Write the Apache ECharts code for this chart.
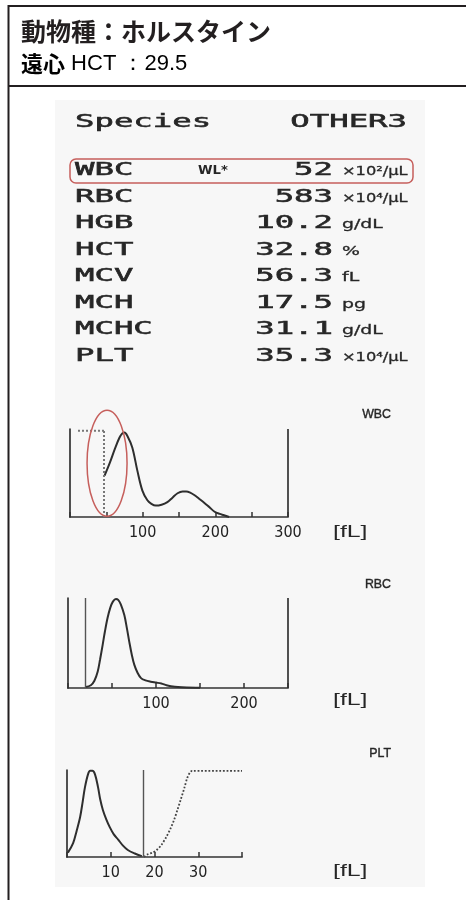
<!DOCTYPE html>
<html><head><meta charset="utf-8">
<script src="https://cdn.jsdelivr.net/npm/echarts@6/dist/echarts.min.js"></script>
<style>html,body{margin:0;padding:0;background:#fff}#c{width:466px;height:900px}</style>
</head><body><div id="c"></div>
<script>
// ---- header ----
const headerTitle = '動物種：ホルスタイン';
const headerSubBold = '遠心';
const headerSubRest = ' HCT ：29.5';
// ---- printout values ----
const speciesLabel = 'Species';
const speciesValue = 'OTHER3';
const rowNames  = ['WBC','RBC','HGB','HCT','MCV','MCH','MCHC','PLT'];
const rowValues = ['52','583','10.2','32.8','56.3','17.5','31.1','35.3'];
const rowUnits  = ['×10²/μL','×10⁴/μL','g/dL','%','fL','pg','g/dL','×10⁴/μL'];
const rowFlags  = ['WL*','','','','','','',''];
// ---- histograms ----
const histTitles = ['WBC','RBC','PLT'];
const unitLabel = '[fL]';
const wbcXMax = 300, rbcXMax = 250, pltXMax = 40;
const wbcTickLabels = [100,200,300];
const rbcTickLabels = [100,200];
const pltTickLabels = [10,20,30];
const wbcGate = 47, rbcGate = 20, pltGate = 17.4;
const wbcCurve = [[47.6,47],[55,62],[62,78],[68,90],[72,95],[75,96],[79,92],[85.7,79],[92.6,53],[99.6,30],[106.5,19],[112,15],[118,13],[126,14],[134,17],[141,22],[148,27],[155,29],[160,29],[166,27.5],[171,25],[178,20.5],[185,16],[192,11],[199,6],[206,3.5],[212,2],[219,0]];
const wbcDotted = [[11,98],[47,98]];
const rbcCurve = [[20,1],[26,3],[30,8],[33.7,18],[36.5,32],[39.4,48],[42,63],[45,78],[48,89],[51,96],[54.5,99],[57,98],[60,93],[64,81],[67,66],[69.7,51],[72.5,37],[75.3,26],[79,17],[83,11],[88,8.5],[94,7],[100,6],[106,5],[112,3],[117,2],[125,1],[135,0.5],[150,0.3]];
const pltCurve = [[0.2,5],[1.4,16],[2.2,30],[3,46],[3.6,64],[4.1,80],[4.8,95],[5.3,99],[5.8,99],[6.4,95],[7.1,80],[7.6,66],[8.2,54],[9,43],[9.8,34],[10.7,26],[11.7,20],[12.8,13],[13.9,8],[15.5,4],[17.1,1]];
const pltDotted = [[17.6,0],[18.4,3],[19.5,5],[20.5,8],[21.6,14],[22.7,23],[23.6,32],[24.5,43],[25.3,55],[26,66],[26.8,79],[27.5,91],[28.1,97],[28.6,99],[40,99]];

const ink = '#262626';
const chart = echarts.init(document.getElementById('c'));

function xAxisFor(gi, max, interval, labels) {
  return {
    gridIndex: gi, type: 'value', min: 0, max: max, interval: interval,
    axisLine: {show: true, lineStyle: {color: '#333', width: 1.7}},
    axisTick: {show: true, inside: true, length: 5, lineStyle: {color: '#333', width: 1.5}},
    axisLabel: {show: true, margin: 8, color: '#222', fontSize: 16,
      fontFamily: "'Liberation Sans Narrow','DejaVu Sans Condensed','Liberation Sans'",
      formatter: v => labels.indexOf(v) >= 0 ? String(v) : ''},
    splitLine: {show: false}
  };
}
function yAxisFor(gi) {
  return {gridIndex: gi, type: 'value', min: 0, max: 100,
    axisLine: {show: true, lineStyle: {color: '#333', width: 1.7}},
    axisTick: {show: false}, axisLabel: {show: false}, splitLine: {show: false}};
}
const curveStyle = {color: '#2e2e2e', width: 2};

chart.setOption({
  animation: false,
  grid: [
    {left: 70, top: 429, width: 218, height: 88},
    {left: 68, top: 598, width: 220, height: 90},
    {left: 67, top: 770, width: 175, height: 87}
  ],
  xAxis: [xAxisFor(0, wbcXMax, 50, wbcTickLabels), xAxisFor(1, rbcXMax, 50, rbcTickLabels), xAxisFor(2, pltXMax, 10, pltTickLabels)],
  yAxis: [yAxisFor(0), yAxisFor(1), yAxisFor(2)],
  series: [
    {type: 'line', xAxisIndex: 0, yAxisIndex: 0, data: wbcCurve, smooth: 0.35, showSymbol: false, lineStyle: curveStyle,
     markLine: {silent: true, symbol: 'none', label: {show: false},
       data: [
         {xAxis: wbcGate, lineStyle: {type: 'dotted', color: '#777', width: 2}},
         {xAxis: wbcXMax, lineStyle: {type: 'solid', color: '#333', width: 1.7}}
       ]}},
    {type: 'line', xAxisIndex: 0, yAxisIndex: 0, data: wbcDotted, showSymbol: false,
     lineStyle: {color: '#777', width: 2, type: 'dotted'}},
    {type: 'line', xAxisIndex: 1, yAxisIndex: 1, data: rbcCurve, smooth: 0.35, showSymbol: false, lineStyle: curveStyle,
     markLine: {silent: true, symbol: 'none', label: {show: false},
       data: [
         {xAxis: rbcGate, lineStyle: {type: 'solid', color: '#555', width: 1.4}},
         {xAxis: rbcXMax, lineStyle: {type: 'solid', color: '#333', width: 1.7}}
       ]}},
    {type: 'line', xAxisIndex: 2, yAxisIndex: 2, data: pltCurve, smooth: 0.35, showSymbol: false, lineStyle: curveStyle,
     markLine: {silent: true, symbol: 'none', label: {show: false},
       data: [{xAxis: pltGate, lineStyle: {type: 'solid', color: '#555', width: 1.4}}]}},
    {type: 'line', xAxisIndex: 2, yAxisIndex: 2, data: pltDotted, smooth: 0.3, showSymbol: false,
     lineStyle: {color: '#444', width: 1.8, type: 'dotted'}}
  ]
});

// ---- text & decorations ----
const g = [];
const border = '#231f20';
g.push({type: 'rect', z: -10, shape: {x: 55, y: 100, width: 370, height: 787}, style: {fill: '#f7f7f7'}});
g.push({type: 'line', z: 50, shape: {x1: 8.5, y1: 5, x2: 8.5, y2: 900}, style: {stroke: border, lineWidth: 2}});
g.push({type: 'line', z: 50, shape: {x1: 8, y1: 6, x2: 466, y2: 6}, style: {stroke: border, lineWidth: 2}});
g.push({type: 'line', z: 50, shape: {x1: 8, y1: 86, x2: 466, y2: 86}, style: {stroke: border, lineWidth: 2}});
g.push({type: 'text', z: 50, x: 21, y: 31, style: {text: headerTitle, font: 'bold 25px "Noto Sans CJK JP"', fill: border, textAlign: 'left', textVerticalAlign: 'middle'}});
g.push({type: 'text', z: 50, x: 21, y: 64, style: {
  text: '{a|' + headerSubBold + '}{b|' + headerSubRest + '}', textAlign: 'left', textVerticalAlign: 'middle',
  rich: {a: {font: 'bold 22px "Noto Sans CJK JP"', color: border},
         b: {font: 'normal 22px "Liberation Sans"', color: border}}}});

const mono = 'normal 17px "DejaVu Sans Mono"';
const sx = 1.9;
function t(x, y, text, font, align, scale, bold) {
  g.push({type: 'text', z: 50, x: x, y: y, scaleX: scale, style: {text: text, font: font, fill: ink,
    stroke: bold ? ink : null, lineWidth: bold ? bold : 0, textAlign: align, textVerticalAlign: 'middle'}});
}
t(75, 123, speciesLabel, mono, 'left', sx, 0.5);
t(407, 123, speciesValue, mono, 'right', sx, 0.5);
const rowY0 = 171, rowStep = 26.5;
rowNames.forEach((n, i) => {
  const y = rowY0 + i * rowStep;
  t(75, y, n, mono, 'left', sx, 0.5);
  t(333, y, rowValues[i], mono, 'right', sx, 0.5);
  const u = rowUnits[i];
  t(342, y + 1, u, 'normal 13px "DejaVu Sans"', 'left', u.length > 4 ? 1.25 : 1.45, 0.3);
  if (rowFlags[i]) t(198, y, rowFlags[i], 'bold 12px "DejaVu Sans"', 'left', 1.1, 0);
});
// red box around WBC row
g.push({type: 'rect', z: 60, shape: {x: 70, y: rowY0 - 12, width: 343, height: 24, r: 6}, style: {fill: 'none', stroke: '#c65f5c', lineWidth: 1.5}});

// histogram titles and units
const histTitleY = [414, 584, 753];
const unitY = [533, 701, 872];
histTitles.forEach((h, i) => {
  t(391, histTitleY[i], h, 'normal 13px "Liberation Sans"', 'right', 0.95, 0.4);
  t(333, unitY[i], unitLabel, 'normal 16px "Liberation Sans"', 'left', 1.55, 0);
});
// red ellipse around the WBC gate region
const c = chart.convertToPixel({gridIndex: 0}, [51, 61]);
g.push({type: 'ellipse', z: 60, shape: {cx: c[0], cy: c[1], rx: 20, ry: 53}, style: {fill: 'none', stroke: '#c65f5c', lineWidth: 1.5}});

chart.setOption({graphic: g});
</script>
</body></html>
